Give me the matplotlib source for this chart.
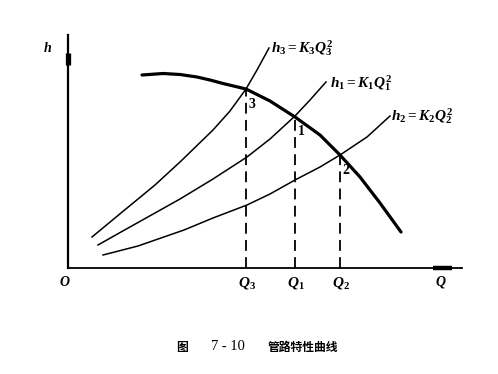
import numpy as np
import matplotlib.pyplot as plt

# Pixel readings converted to chart units: Q = (px - 68) / 10, h = (268 - py) / 10
pump_q = [7.4, 9.5, 11.2, 12.9, 14.2, 15.5, 17.8, 20.2, 22.7, 25.2, 27.2, 29.2, 31.2, 33.3]
pump_h = [19.3, 19.45, 19.35, 19.1, 18.8, 18.45, 17.9, 16.7, 15.1, 13.3, 11.3, 9.1, 6.5, 3.6]

h3_q = [2.4, 5.3, 8.7, 11.2, 14.5, 16.2, 17.8, 18.9, 20.1]
h3_h = [3.1, 5.5, 8.3, 10.6, 13.8, 15.7, 17.9, 19.8, 22.0]

h1_q = [3.0, 5.3, 8.7, 11.2, 14.5, 17.9, 20.2, 22.7, 24.2, 25.8]
h1_h = [2.3, 3.6, 5.5, 6.9, 8.9, 11.1, 12.9, 15.2, 16.8, 18.6]

h2_q = [3.5, 7.0, 11.6, 14.5, 17.9, 20.2, 22.7, 25.2, 27.2, 29.9, 32.2]
h2_h = [1.3, 2.2, 3.8, 5.0, 6.3, 7.4, 8.8, 10.1, 11.3, 13.1, 15.2]

op_names = ['3', '1', '2']
op_q = [17.8, 22.7, 27.2]
op_h = [17.9, 15.2, 11.3]
q_ticks = ['$Q_3$', '$Q_1$', '$Q_2$']

plt.rcParams['mathtext.fontset'] = 'custom'
plt.rcParams['mathtext.it'] = 'Liberation Serif:bold:italic'
plt.rcParams['mathtext.rm'] = 'Liberation Serif:bold'
plt.rcParams['mathtext.bf'] = 'Liberation Serif:bold'

fig = plt.figure(figsize=(4.98, 3.74), dpi=100)
ax = fig.add_axes([0, 0, 1, 1])
ax.set_xlim(-6.8, 43.0)
ax.set_ylim(-10.6, 26.8)
ax.axis('off')

# axes with thick arrow-like ends
ax.plot([0, 0], [0, 23.3], color='black', lw=1.6)
ax.plot([0, 0], [20.3, 21.5], color='black', lw=3.8, solid_capstyle='butt')
ax.plot([0, 39.4], [0, 0], color='black', lw=1.3)
ax.plot([36.5, 38.4], [0.05, 0.05], color='black', lw=3.2, solid_capstyle='butt')

# system curves and pump curve
for q, h in [(h3_q, h3_h), (h1_q, h1_h), (h2_q, h2_h)]:
    ax.plot(q, h, color='black', lw=1.1, solid_joinstyle='round')
ax.plot(pump_q, pump_h, color='black', lw=2.3, solid_capstyle='round',
        solid_joinstyle='round')

# operating points: dashed drops to the Q axis
for name, q, h, lab in zip(op_names, op_q, op_h, q_ticks):
    ax.plot([q, q], [0, h], color='black', lw=1.3, dashes=(6, 3.5))
    ax.text(q + 0.25, h - 0.9, name, fontsize=10, family='Liberation Serif',
            fontweight='bold', ha='left', va='top')
    ax.text(q + 0.1, -0.7, lab, fontsize=11, ha='center', va='top')

ax.text(-0.3, -0.7, '$O$', fontsize=10, ha='center', va='top')
ax.text(37.3, -0.6, '$Q$', fontsize=10, ha='center', va='top')
ax.text(-2.0, 22.0, '$h$', fontsize=10, ha='center', va='center')

ax.text(20.3, 22.0, '$h_3 = K_3Q_3^2$', fontsize=11, ha='left', va='center')
ax.text(26.2, 18.5, '$h_1 = K_1Q_1^2$', fontsize=11, ha='left', va='center')
ax.text(32.3, 15.2, '$h_2 = K_2Q_2^2$', fontsize=11, ha='left', va='center')

cjk = ['Noto Sans CJK SC', 'DejaVu Sans']
ax.text(11.4, -7.9, '图', fontsize=8.5, ha='center', va='center',
        family=cjk, fontweight='bold')
ax.text(16.0, -7.9, '7 - 10', fontsize=10.5, ha='center', va='center',
        family='Liberation Serif')
ax.text(23.5, -7.9, '管路特性曲线', fontsize=8.5, ha='center', va='center',
        family=cjk, fontweight='bold')

fig.savefig('out.png', dpi=100, facecolor='white')
